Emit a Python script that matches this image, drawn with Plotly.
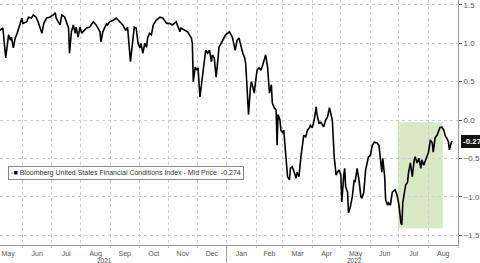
import plotly.graph_objects as go

dates = [
"2021-05-08","2021-05-11","2021-05-14","2021-05-17","2021-05-19","2021-05-20","2021-05-22","2021-05-24","2021-05-26","2021-05-29",
"2021-05-31","2021-06-01","2021-06-05","2021-06-07","2021-06-10","2021-06-12","2021-06-15","2021-06-17","2021-06-21","2021-06-23",
"2021-06-26","2021-06-29","2021-07-03","2021-07-05","2021-07-06","2021-07-10","2021-07-12","2021-07-15","2021-07-19","2021-07-20",
"2021-07-22","2021-07-24","2021-07-26","2021-07-27","2021-07-29","2021-07-31","2021-08-02","2021-08-03","2021-08-07","2021-08-10",
"2021-08-14","2021-08-17","2021-08-21","2021-08-22","2021-08-24","2021-08-28","2021-08-29","2021-08-31","2021-09-04","2021-09-07",
"2021-09-11","2021-09-14","2021-09-17","2021-09-19","2021-09-22","2021-09-24","2021-09-26","2021-09-28","2021-09-30","2021-10-02",
"2021-10-03","2021-10-05","2021-10-07","2021-10-09","2021-10-10","2021-10-12","2021-10-14","2021-10-16","2021-10-19","2021-10-23",
"2021-10-26","2021-10-30","2021-11-02","2021-11-05","2021-11-09","2021-11-13","2021-11-14","2021-11-18","2021-11-21","2021-11-25",
"2021-11-26","2021-11-27","2021-11-29","2021-12-01","2021-12-02","2021-12-04","2021-12-07","2021-12-09","2021-12-10","2021-12-12",
"2021-12-14","2021-12-16","2021-12-17","2021-12-19","2021-12-21","2021-12-23","2021-12-24","2021-12-28","2021-12-31","2022-01-04",
"2022-01-07","2022-01-10","2022-01-12","2022-01-14","2022-01-16","2022-01-18","2022-01-20","2022-01-21","2022-01-23","2022-01-24",
"2022-01-26","2022-01-27","2022-01-28","2022-01-30","2022-02-01","2022-02-02","2022-02-04","2022-02-06","2022-02-08","2022-02-09",
"2022-02-11","2022-02-13","2022-02-14","2022-02-15","2022-02-17","2022-02-18","2022-02-20","2022-02-22","2022-02-23","2022-02-24",
"2022-02-26","2022-02-27","2022-03-01","2022-03-02","2022-03-06","2022-03-08","2022-03-09","2022-03-11","2022-03-13","2022-03-15",
"2022-03-16","2022-03-18","2022-03-20","2022-03-22","2022-03-23","2022-03-25","2022-03-27","2022-03-29","2022-03-30","2022-04-01",
"2022-04-03","2022-04-05","2022-04-06","2022-04-08","2022-04-10","2022-04-12","2022-04-13","2022-04-15","2022-04-17","2022-04-19",
"2022-04-20","2022-04-22","2022-04-24","2022-04-26","2022-04-27","2022-04-29","2022-05-01","2022-05-02","2022-05-04","2022-05-05",
"2022-05-06","2022-05-08","2022-05-09","2022-05-11","2022-05-13","2022-05-15","2022-05-16","2022-05-18","2022-05-20","2022-05-22",
"2022-05-23","2022-05-25","2022-05-27","2022-05-29","2022-05-30","2022-06-01","2022-06-03","2022-06-05","2022-06-08","2022-06-10",
"2022-06-12","2022-06-13","2022-06-14","2022-06-16","2022-06-17","2022-06-19","2022-06-20","2022-06-22","2022-06-24","2022-06-26",
"2022-06-27","2022-06-29","2022-07-01","2022-07-03","2022-07-04","2022-07-05","2022-07-07","2022-07-08","2022-07-10","2022-07-11",
"2022-07-13","2022-07-15","2022-07-17","2022-07-18","2022-07-20","2022-07-22","2022-07-24","2022-07-25","2022-07-27","2022-07-29",
"2022-07-30","2022-08-01","2022-08-03","2022-08-05","2022-08-06","2022-08-08","2022-08-10","2022-08-12","2022-08-13","2022-08-15",
"2022-08-17","2022-08-19","2022-08-20","2022-08-22","2022-08-23","2022-08-25","2022-08-26",
]

fci = [
1.17,1.20,0.81,1.11,1.04,1.08,0.94,1.07,1.13,1.24,
1.33,1.26,1.28,1.34,1.33,1.37,1.34,1.28,1.13,1.26,
1.33,1.34,1.37,1.40,1.33,1.24,1.37,1.34,1.20,0.87,
1.15,1.24,1.13,1.21,1.08,1.21,1.13,1.15,1.20,1.21,
1.28,1.24,1.15,1.02,1.15,1.26,1.24,1.28,1.30,1.33,
1.28,1.24,1.17,1.21,0.76,1.00,1.21,1.20,1.00,0.94,
1.00,0.87,1.00,0.95,1.07,1.13,1.11,1.24,1.30,1.34,
1.33,1.26,1.26,1.24,1.28,1.15,1.20,1.17,1.15,1.07,
1.00,0.50,0.69,0.65,0.68,0.30,0.65,0.85,0.91,0.87,
0.91,0.76,0.85,0.81,0.56,0.81,0.95,1.04,1.11,1.15,
1.08,0.91,1.04,1.07,0.95,0.87,0.81,0.74,0.30,0.07,
0.42,0.50,0.46,0.35,0.56,0.65,0.68,0.65,0.72,0.76,
0.85,0.69,0.43,0.35,0.46,0.22,0.16,0.13,-0.33,0.07,
0.00,-0.13,-0.17,-0.13,-0.74,-0.78,-0.63,-0.61,-0.68,-0.76,
-0.68,-0.74,-0.48,-0.23,-0.20,-0.22,-0.13,-0.10,-0.07,-0.10,
0.00,0.17,0.07,-0.04,-0.03,-0.07,-0.09,0.00,0.04,0.16,
0.09,0.00,-0.48,-0.72,-0.69,-0.65,-0.72,-1.07,-0.72,-0.63,
-0.87,-0.94,-1.21,-1.13,-1.00,-0.78,-0.81,-0.63,-0.78,-1.00,
-1.02,-0.95,-0.65,-0.50,-0.48,-0.46,-0.33,-0.29,-0.30,-0.33,
-0.52,-0.68,-0.50,-0.74,-1.04,-1.11,-1.08,-1.11,-0.94,-0.91,
-0.91,-0.98,-1.11,-1.34,-1.37,-1.08,-0.91,-0.85,-0.81,-0.69,
-0.56,-0.74,-0.52,-0.48,-0.56,-0.50,-0.63,-0.52,-0.59,-0.52,
-0.48,-0.42,-0.26,-0.30,-0.42,-0.23,-0.20,-0.13,-0.10,-0.09,
-0.13,-0.22,-0.23,-0.29,-0.39,-0.29,-0.274,
]

y_ticks = [-1.5, -1.0, -0.5, 0.0, 0.5, 1.0, 1.5]
series_name = "Bloomberg United States Financial Conditions Index - Mid Price"
last_label = "-0.274"
year_labels = ["2021", "2022"]
year_label_dates = ["2021-08-26", "2022-05-15"]
year_boundary = "2022-01-01"
shade_x = ["2022-06-30", "2022-08-16"]
shade_y = [-1.41, -0.03]

FONT = "Liberation Sans, Arial, sans-serif"

fig = go.Figure()
fig.add_trace(go.Scatter(x=dates, y=fci, mode="lines",
                         line=dict(color="#000000", width=1.6),
                         showlegend=False, hoverinfo="skip"))

fig.add_shape(type="rect", xref="x", yref="y",
              x0=shade_x[0], x1=shade_x[1], y0=shade_y[0], y1=shade_y[1],
              fillcolor="rgba(185,215,150,0.55)", line=dict(width=0), layer="below")

# longer tick marking the year boundary
fig.add_shape(type="line", xref="x", yref="paper",
              x0=year_boundary, x1=year_boundary, y0=0, y1=-0.07,
              line=dict(color="#999999", width=1))

fig.update_layout(
    width=480, height=263,
    margin=dict(l=0, r=20, t=0, b=18),
    paper_bgcolor="white", plot_bgcolor="white",
    font=dict(family=FONT, size=8, color="#555555"),
    showlegend=False,
)

fig.update_xaxes(
    type="date",
    range=["2021-05-08", "2022-09-01"],
    dtick="M1", tick0="2021-05-01",
    tickformat="%b", ticklabelmode="period",
    showgrid=True, gridcolor="#cccccc", griddash="dot", gridwidth=1,
    showline=True, linecolor="#999999", linewidth=1,
    ticks="outside", ticklen=2, tickcolor="#bbbbbb",
    ticklabelstandoff=0,
    tickfont=dict(size=7, color="#555555"),
    zeroline=False, fixedrange=True,
)

fig.update_yaxes(
    side="right",
    range=[-1.63, 1.565],
    tickvals=y_ticks, tickformat=".1f",
    showgrid=True, gridcolor="#cccccc", griddash="dot", gridwidth=1,
    showline=True, linecolor="#999999", linewidth=1,
    ticks="outside", ticklen=3, tickcolor="#555555",
    tickfont=dict(size=8, color="#555555"),
    zeroline=False, fixedrange=True,
)

for lbl, d in zip(year_labels, year_label_dates):
    fig.add_annotation(x=d, xref="x", y=0, yref="paper", yshift=-10.5,
                       text=lbl, showarrow=False, yanchor="top",
                       borderpad=0,
                       font=dict(size=6.5, color="#555555", family=FONT))

# legend-like box
fig.add_annotation(
    x=0.018, xref="paper", y=0.295, yref="paper", xanchor="left", yanchor="middle",
    text=('<span style="color:#b0b0b0">\u25aa</span><span style="color:#000000">\u25a0</span> '
          + series_name + "  " + last_label),
    showarrow=False, align="left",
    bgcolor="white", bordercolor="#888888", borderwidth=1, borderpad=2,
    font=dict(size=7, color="#333333", family=FONT),
)

# last value tag on the right axis
fig.add_annotation(
    x=1.0, xref="paper", y=fci[-1], yref="y", xanchor="left", xshift=3,
    text="<b>" + last_label + "</b>", showarrow=False,
    bgcolor="#111111", bordercolor="#111111", borderpad=1,
    font=dict(size=8, color="white", family=FONT),
)

fig.write_html("out.html")
